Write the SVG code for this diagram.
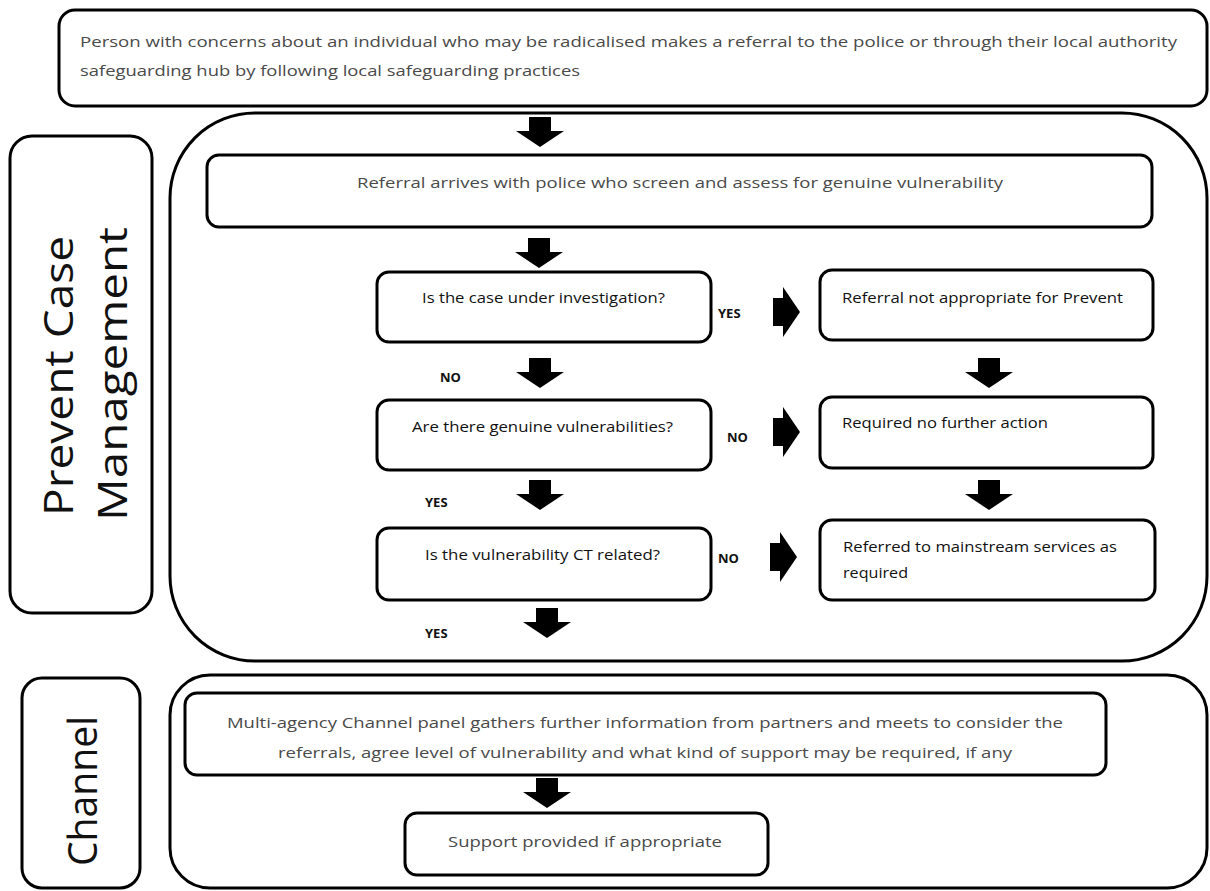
<svg xmlns="http://www.w3.org/2000/svg" width="1210" height="891" viewBox="0 0 1210 891">
<defs>
<style>
.box{fill:#fff;stroke:#000;stroke-width:3}
.frame{fill:none;stroke:#000;stroke-width:3}
.t{font-family:"Open Sans","Liberation Sans",sans-serif;font-size:15px;fill:#4a4a4a}
.q{font-family:"Open Sans","Liberation Sans",sans-serif;font-size:15px;fill:#111}
.lbl{font-family:"Open Sans","Liberation Sans",sans-serif;font-size:13px;font-weight:bold;fill:#111}
.big{font-family:"Open Sans","Liberation Sans",sans-serif;font-size:40px;fill:#111}
.arr{fill:#000}
</style>
<path id="down" d="M-11,0 H11 V14 H24 L0,30 L-24,14 H-11 Z"/>
<path id="right" d="M0,-14 H10 V-25 L27,0 L10,25 V14 H0 Z"/>
</defs>
<rect width="1210" height="891" fill="#fff"/>

<g id="lane-prevent">
<rect class="frame" x="170" y="113" width="1037" height="548" rx="85" ry="85"/>
<rect class="box" x="10" y="136" width="142" height="477" rx="22"/>
<text class="big" transform="translate(73,376) rotate(-90)" text-anchor="middle" textLength="280" lengthAdjust="spacingAndGlyphs">Prevent Case</text>
<text class="big" transform="translate(127,374) rotate(-90)" text-anchor="middle" textLength="294" lengthAdjust="spacingAndGlyphs">Management</text>
</g>

<g id="lane-channel">
<rect class="frame" x="170" y="675" width="1037" height="213" rx="40" ry="40"/>
<rect class="box" x="22" y="678" width="118" height="210" rx="20"/>
<text class="big" transform="translate(97,791) rotate(-90)" text-anchor="middle" textLength="150" lengthAdjust="spacingAndGlyphs">Channel</text>
</g>

<g id="node-start">
<rect class="box" x="59" y="10" width="1148" height="96" rx="16"/>
<text class="t" x="80" y="47" textLength="1097" lengthAdjust="spacingAndGlyphs">Person with concerns about an individual who may be radicalised makes a referral to the police or through their local authority</text>
<text class="t" x="80" y="76" textLength="500" lengthAdjust="spacingAndGlyphs">safeguarding hub by following local safeguarding practices</text>
</g>

<g id="node-referral">
<rect class="box" x="207" y="155" width="945" height="72" rx="12"/>
<text class="t" x="357" y="188" textLength="646" lengthAdjust="spacingAndGlyphs">Referral arrives with police who screen and assess for genuine vulnerability</text>
</g>

<g id="node-q1">
<rect class="box" x="377" y="272" width="334" height="70" rx="12"/>
<text class="q" x="422" y="303" textLength="243" lengthAdjust="spacingAndGlyphs">Is the case under investigation?</text>
</g>
<g id="node-q2">
<rect class="box" x="377" y="400" width="334" height="70" rx="12"/>
<text class="q" x="412" y="432" textLength="261" lengthAdjust="spacingAndGlyphs">Are there genuine vulnerabilities?</text>
</g>
<g id="node-q3">
<rect class="box" x="377" y="528" width="334" height="72" rx="12"/>
<text class="q" x="425" y="560" textLength="235" lengthAdjust="spacingAndGlyphs">Is the vulnerability CT related?</text>
</g>

<g id="node-r1">
<rect class="box" x="820" y="270" width="333" height="70" rx="12"/>
<text class="q" x="842" y="303" textLength="281" lengthAdjust="spacingAndGlyphs">Referral not appropriate for Prevent</text>
</g>
<g id="node-r2">
<rect class="box" x="820" y="397" width="333" height="71" rx="12"/>
<text class="q" x="842" y="428" textLength="206" lengthAdjust="spacingAndGlyphs">Required no further action</text>
</g>
<g id="node-r3">
<rect class="box" x="820" y="520" width="335" height="80" rx="12"/>
<text class="q" x="843" y="552" textLength="274" lengthAdjust="spacingAndGlyphs">Referred to mainstream services as</text>
<text class="q" x="843" y="578" textLength="65" lengthAdjust="spacingAndGlyphs">required</text>
</g>

<g id="node-channel-panel">
<rect class="box" x="185" y="693" width="921" height="82" rx="12"/>
<text class="t" x="645" y="728" text-anchor="middle" textLength="836" lengthAdjust="spacingAndGlyphs">Multi-agency Channel panel gathers further information from partners and meets to consider the</text>
<text class="t" x="645" y="758" text-anchor="middle" textLength="734" lengthAdjust="spacingAndGlyphs">referrals, agree level of vulnerability and what kind of support may be required, if any</text>
</g>

<g id="node-support">
<rect class="box" x="405" y="813" width="363" height="62" rx="12"/>
<text class="t" x="585" y="847" text-anchor="middle" textLength="274" lengthAdjust="spacingAndGlyphs">Support provided if appropriate</text>
</g>

<g id="connectors">
<use href="#down" class="arr" x="540" y="117"/>
<use href="#down" class="arr" x="539" y="238"/>
<use href="#down" class="arr" x="540" y="358"/>
<use href="#down" class="arr" x="540" y="480"/>
<use href="#down" class="arr" x="547" y="608"/>
<use href="#down" class="arr" x="989" y="358"/>
<use href="#down" class="arr" x="989" y="480"/>
<use href="#down" class="arr" x="547" y="778"/>
<use href="#right" class="arr" x="773" y="312"/>
<use href="#right" class="arr" x="773" y="432"/>
<use href="#right" class="arr" x="770" y="557"/>
<text class="lbl" x="718" y="318">YES</text>
<text class="lbl" x="440" y="382">NO</text>
<text class="lbl" x="727" y="442">NO</text>
<text class="lbl" x="425" y="507">YES</text>
<text class="lbl" x="718" y="563">NO</text>
<text class="lbl" x="425" y="638">YES</text>
</g>
</svg>
